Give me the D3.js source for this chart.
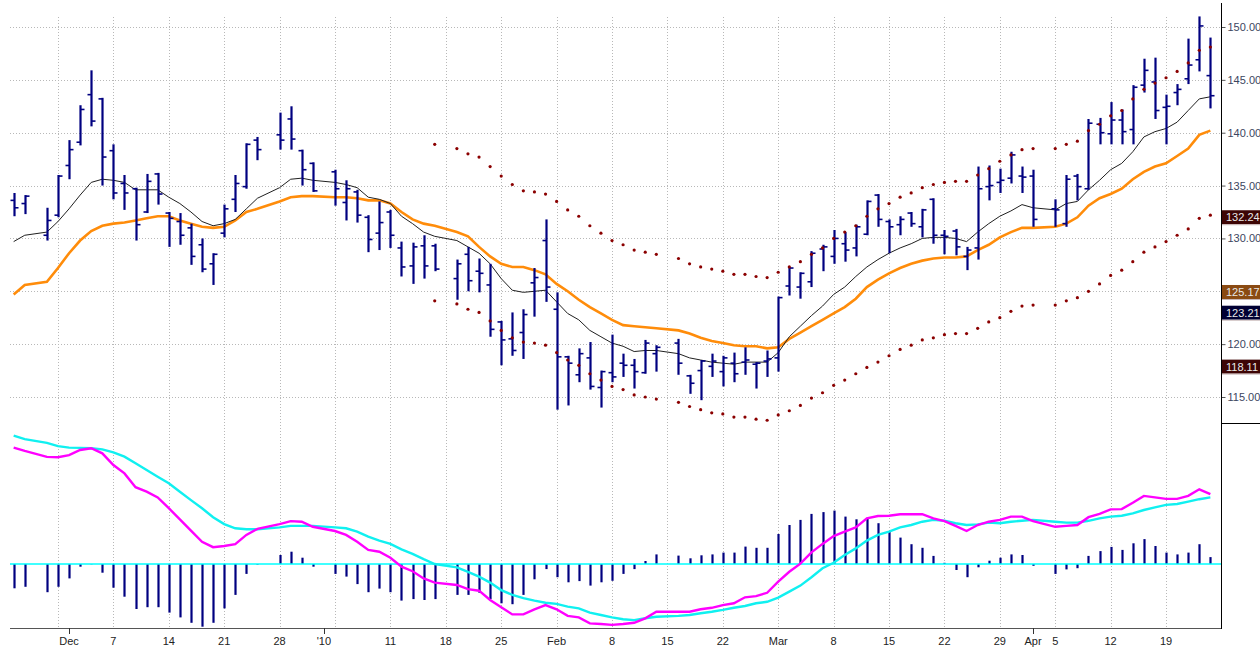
<!DOCTYPE html>
<html>
<head>
<meta charset="utf-8">
<script src="https://cdn.jsdelivr.net/npm/d3@7"></script>
<style>
  body { margin: 0; background: #fff; }
  svg { display: block; font-family: "Liberation Sans", Arial, sans-serif; }
</style>
</head>
<body>
<svg id="chart" width="1260" height="648"></svg>
<script>
// trading days (holidays are left as empty slots)
var dates = [
  "2009-11-24","2009-11-25","2009-11-27",
  "2009-11-30","2009-12-01","2009-12-02","2009-12-03","2009-12-04",
  "2009-12-07","2009-12-08","2009-12-09","2009-12-10","2009-12-11",
  "2009-12-14","2009-12-15","2009-12-16","2009-12-17","2009-12-18",
  "2009-12-21","2009-12-22","2009-12-23","2009-12-24",
  "2009-12-28","2009-12-29","2009-12-30","2009-12-31",
  "2010-01-04","2010-01-05","2010-01-06","2010-01-07","2010-01-08",
  "2010-01-11","2010-01-12","2010-01-13","2010-01-14","2010-01-15",
  "2010-01-19","2010-01-20","2010-01-21","2010-01-22",
  "2010-01-25","2010-01-26","2010-01-27","2010-01-28","2010-01-29",
  "2010-02-01","2010-02-02","2010-02-03","2010-02-04","2010-02-05",
  "2010-02-08","2010-02-09","2010-02-10","2010-02-11","2010-02-12",
  "2010-02-16","2010-02-17","2010-02-18","2010-02-19",
  "2010-02-22","2010-02-23","2010-02-24","2010-02-25","2010-02-26",
  "2010-03-01","2010-03-02","2010-03-03","2010-03-04","2010-03-05",
  "2010-03-08","2010-03-09","2010-03-10","2010-03-11","2010-03-12",
  "2010-03-15","2010-03-16","2010-03-17","2010-03-18","2010-03-19",
  "2010-03-22","2010-03-23","2010-03-24","2010-03-25","2010-03-26",
  "2010-03-29","2010-03-30","2010-03-31","2010-04-01",
  "2010-04-05","2010-04-06","2010-04-07","2010-04-08","2010-04-09",
  "2010-04-12","2010-04-13","2010-04-14","2010-04-15","2010-04-16",
  "2010-04-19","2010-04-20","2010-04-21","2010-04-22","2010-04-23"
]

var open = [133.6,133.3,130.3, 132.2,136.9,139.1,143.6,143.2, 138.3,135.2,134.7,132.5,136.1,
  132.4,131.6,131.0,129.4,127.6, 130.5,133.7,134.9,139.3, 139.8,141.3,138.3,137.1,
  136.3,133.4,134.4,132.0,130.5, 132.5,129.1,127.4,129.3,129.3, 126.2,128.5,126.9,125.6,
  122.1,120.5,121.1,125.8,129.8, 123.3,118.8,117.1,118.7,115.9, 117.3,118.2,118.0,117.3,119.1,
  120.1,117.0,117.5,117.9, 117.4,118.2,118.3,118.1,118.4, 118.7,125.5,125.4,125.9,129.0,
  128.3,129.5,129.1,130.4,134.1, 131.6,131.3,132.4,131.1,133.7, 130.3,130.7,128.3,129.1,134.9,
  135.3,135.7,135.9,135.9, 132.8,131.4,135.9,134.7,140.8, 139.9,141.2,140.3,144.5,144.8,
  142.4,143.8,145.1,146.9,145.4]
var high = [134.3,134.1,132.9, 136.0,139.3,142.6,145.9,143.3, 138.9,136.0,134.8,136.1,136.2,
  132.5,132.4,131.4,130.0,128.6, 133.2,136.0,139.0,139.6, 141.9,142.5,138.4,137.2,
  136.5,135.5,134.6,132.2,133.5, 132.7,129.7,129.6,130.3,129.5, 128.0,129.2,128.1,127.6,
  122.2,123.0,123.3,127.2,131.8, 124.9,118.9,119.6,120.2,117.5, 120.9,119.1,118.6,120.4,119.9,
  120.5,117.1,118.5,119.1, 118.9,119.2,119.7,118.3,119.4, 124.5,127.3,126.8,128.8,129.4,
  130.8,130.6,131.3,133.6,134.2, 131.8,132.1,132.5,132.8,133.8, 130.8,130.9,129.2,136.8,136.9,
  136.6,138.2,136.8,136.5, 133.7,136.0,136.1,141.3,141.4, 142.9,142.2,144.5,147.0,147.1,
  143.6,144.6,148.9,151.0,149.0]
var low = [132.1,132.3,129.8, 132.0,135.6,138.8,140.6,135.0, 133.7,132.7,129.8,132.4,133.2,
  129.2,129.4,127.5,126.8,125.6, 130.1,132.5,134.7,137.4, 138.4,138.4,135.0,134.4,
  133.1,131.7,131.5,128.7,128.9, 129.1,126.4,125.7,126.2,126.9, 124.2,125.0,124.9,120.7,
  118.0,118.9,118.6,122.6,124.0, 113.8,114.2,116.4,115.7,114.0, 116.4,116.9,115.8,117.2,117.4,
  117.1,115.3,114.7,116.9, 116.0,116.4,117.1,115.8,116.9, 117.4,124.6,124.3,125.4,126.9,
  127.6,127.8,128.3,130.3,131.1, 128.6,130.3,131.1,130.1,129.5, 128.5,128.4,127.0,128.0,133.6,
  134.3,135.2,134.3,131.1, 131.1,131.1,133.6,134.6,138.9, 138.9,138.9,138.9,143.8,141.3,
  138.9,142.6,144.6,145.8,142.3]
var close = [132.9,134.0,131.7, 135.9,138.4,142.2,141.1,137.7, 134.3,134.3,131.3,135.4,134.2,
  131.9,130.3,128.3,127.1,128.5, 132.8,135.2,138.9,138.4, 139.3,139.4,136.5,134.5,
  134.7,134.7,132.2,129.9,131.5, 130.3,127.3,129.2,127.4,127.1, 127.6,126.0,126.7,121.4,
  120.4,119.4,122.8,126.3,125.4, 118.8,118.2,119.1,116.0,117.4, 116.9,118.0,117.4,120.1,119.7,
  118.2,116.3,118.4,118.4, 118.7,117.2,118.5,118.2,118.6, 124.4,127.2,126.7,128.6,129.2,
  130.0,128.9,131.1,133.5,131.8, 131.1,131.8,131.4,132.7,130.3, 130.2,129.2,128.9,134.7,135.0,
  135.5,137.9,135.8,131.8, 132.7,135.6,134.9,140.9,140.0, 141.2,140.1,144.3,145.9,142.1,
  142.5,144.1,146.4,150.1,143.5]

// thin black average
var maFast = [129.7,130.3,130.6, 131.6,132.8,134.1,135.3,135.6, 135.5,135.3,134.6,134.6,134.6,
  133.9,133.3,132.5,131.6,131.2, 131.4,131.8,132.8,133.8, 134.8,135.6,135.7,135.5,
  135.3,135.1,134.8,133.9,133.7, 133.3,132.1,131.4,130.6,130.2, 129.8,129.2,128.6,127.6,
  126.2,125.1,124.9,125.0,125.1, 124.0,122.9,122.3,121.3,120.7, 120.1,119.8,119.3,119.4,119.4,
  119.1,118.7,118.5,118.3, 118.2,118.1,118.3,118.3,118.3, 119.2,120.7,121.7,122.7,123.6,
  124.7,125.4,126.4,127.3,128.0, 128.6,129.1,129.5,130.0,130.1, 130.1,130.0,129.7,130.6,131.4,
  132.1,132.6,133.2,132.9, 132.7,133.3,133.5,134.6,135.5, 136.5,137.1,138.2,139.6,140.1,
  140.4,141.0,142.1,143.2,143.4]
// orange average
var maSlow = [124.7,125.6,125.9, 127.2,128.6,129.8,130.7,131.2, 131.4,131.5,131.7,131.9,132.1,
  132.1,131.7,131.4,131.1,131.0, 131.1,131.7,132.5,132.8, 133.5,133.9,134.0,134.0,
  133.9,133.9,133.8,133.6,133.6, 133.3,132.5,131.8,131.4,131.2, 130.6,130.2,129.2,128.3,
  127.6,127.3,127.3,127.0,126.6, 125.7,125.0,124.2,123.5,122.9, 122.3,121.8,121.7,121.6,121.5,
  121.3,121.0,120.6,120.3, 120.1,119.9,119.8,119.8,119.6, 119.7,120.5,121.1,121.7,122.3,
  122.9,123.5,124.3,125.4,126.1, 126.7,127.2,127.6,127.9,128.1, 128.2,128.2,128.3,128.9,129.4,
  130.1,130.6,131.0,131.0, 131.1,131.4,132.0,133.1,133.8, 134.2,134.7,135.6,136.3,136.8,
  137.1,137.8,138.5,139.8,140.2]

// dotted bands, starting on 15 Jan
var bandStart = 35
var bandUpper = [138.9, 138.5,138.0,137.7,136.8, 135.9,135.1,134.5,134.4,134.2,
  133.5,132.7,132.1,131.2,130.5, 129.8,129.4,128.9,128.7,128.5, 128.1,127.6,127.3,127.1,
  126.9,126.6,126.6,126.4,126.3, 126.8,127.3,127.8,128.5,129.1, 130.0,130.6,131.2,132.1,132.8,
  133.3,133.9,134.3,134.8,135.1, 135.3,135.4,135.4,136.0,136.6, 137.3,137.9,138.4,138.5,
  138.5,138.9,139.2,140.2,140.8, 141.6,142.1,143.2,144.1,144.7, 145.2,145.8,146.6,147.8,148.1]
var bandLower = [124.1, 123.8,123.3,123.0,122.2, 121.3,120.6,120.2,120.1,119.9,
  119.2,118.5,118.0,117.2,116.6, 116.0,115.7,115.2,115.0,114.8, 114.5,114.1,113.8,113.5,
  113.4,113.1,113.1,112.9,112.8, 113.3,113.7,114.2,114.9,115.4, 116.1,116.6,117.2,117.8,118.3,
  118.9,119.5,119.9,120.4,120.6, 120.9,121.0,121.0,121.5,122.1, 122.5,123.1,123.6,123.7,
  123.7,124.1,124.4,125.0,125.7, 126.5,127.0,127.8,128.7,129.2, 129.7,130.3,130.9,131.9,132.2]

// lower panel
var macd = [3.88,3.77,3.57, 3.56,3.63,3.80,3.86,3.69, 3.30,3.02,2.56,2.41,2.22,
  1.86,1.49,1.11,0.74,0.56, 0.60,0.66,0.97,1.17, 1.33,1.43,1.41,1.24,
  1.10,0.97,0.74,0.47,0.41, 0.21,-0.09,-0.24,-0.48,-0.62, -0.70,-0.84,-0.89,-1.20,
  -1.44,-1.68,-1.68,-1.51,-1.37, -1.51,-1.73,-1.78,-1.98,-2.00, -2.03,-2.00,-1.96,-1.81,-1.59,
  -1.59,-1.59,-1.51,-1.46, -1.37,-1.31,-1.11,-1.07,-0.96, -0.59,-0.26,0.01,0.39,0.67,
  0.93,1.08,1.22,1.52,1.60, 1.61,1.66,1.66,1.66,1.52, 1.43,1.27,1.10,1.30,1.41,
  1.47,1.58,1.58,1.43, 1.24,1.27,1.30,1.56,1.67, 1.82,1.83,2.04,2.27,2.22,
  2.17,2.17,2.27,2.49,2.33]
var signal = [4.28,4.16,4.04, 3.93,3.88,3.87,3.86,3.82, 3.72,3.58,3.36,3.13,2.91,
  2.69,2.41,2.13,1.86,1.56, 1.33,1.19,1.16,1.16, 1.22,1.27,1.27,1.27,
  1.22,1.19,1.08,0.91,0.78, 0.67,0.49,0.34,0.16,0.00, -0.11,-0.26,-0.42,-0.62,
  -0.87,-1.03,-1.14,-1.22,-1.29, -1.33,-1.42,-1.48,-1.62,-1.70, -1.78,-1.84,-1.87,-1.81,-1.76,
  -1.73,-1.70,-1.64,-1.59, -1.53,-1.46,-1.40,-1.31,-1.26, -1.12,-0.92,-0.72,-0.44,-0.14,
  0.04,0.30,0.52,0.78,0.97, 1.08,1.22,1.30,1.41,1.47, 1.44,1.36,1.30,1.32,1.38,
  1.36,1.41,1.44,1.47, 1.41,1.38,1.38,1.44,1.52, 1.58,1.61,1.69,1.80,1.89,
  1.97,2.00,2.08,2.16,2.22]
var hist = [-0.81,-0.76,-0.94, -0.76,-0.48,-0.09,-0.01,-0.29, -0.79,-1.09,-1.50,-1.44,-1.44,
  -1.62,-1.78,-1.96,-2.09,-1.96, -1.48,-1.03,-0.33,-0.02, 0.30,0.41,0.21,-0.09,
  -0.33,-0.42,-0.67,-0.94,-0.82, -0.94,-1.22,-1.17,-1.20,-1.17, -1.03,-1.03,-0.96,-1.17,
  -1.31,-1.34,-1.03,-0.51,-0.17, -0.44,-0.61,-0.57,-0.72,-0.61, -0.56,-0.33,-0.17,0.10,0.32,
  0.28,0.19,0.29,0.32, 0.38,0.38,0.58,0.54,0.54, 1.00,1.30,1.47,1.67,1.73,
  1.78,1.58,1.49,1.54,1.36, 1.10,0.88,0.66,0.54,0.27, 0.04,-0.20,-0.44,-0.11,0.11,
  0.21,0.32,0.30,-0.06, -0.33,-0.18,-0.14,0.27,0.43, 0.57,0.47,0.69,0.83,0.60,
  0.38,0.32,0.38,0.66,0.23]

var priceTicks = [115, 120, 125, 130, 135, 140, 145, 150]
var weekLines = ["2009-11-30","2009-12-07","2009-12-14","2009-12-21","2009-12-28","2010-01-04",
  "2010-01-11","2010-01-18","2010-01-25","2010-02-01","2010-02-08","2010-02-15","2010-02-22",
  "2010-03-01","2010-03-08","2010-03-15","2010-03-22","2010-03-29","2010-04-05","2010-04-12","2010-04-19"]
var dateLabels = ["2009-12-01","2009-12-07","2009-12-14","2009-12-21","2009-12-28","2010-01-01",
  "2010-01-11","2010-01-18","2010-01-25","2010-02-01","2010-02-08","2010-02-15","2010-02-22",
  "2010-03-01","2010-03-08","2010-03-15","2010-03-22","2010-03-29","2010-04-01","2010-04-05",
  "2010-04-12","2010-04-19"]
var dateLabelText = ["Dec","7","14","21","28","'10","11","18","25","Feb","8","15","22",
  "Mar","8","15","22","29","Apr","5","12","19"]
var monthTicks = ["2009-12-01","2010-01-01","2010-04-01"]

var tagValues = [132.24, 125.17, 123.21, 118.11]
var tagColors = ["#3d0505", "#8a4a12", "#000033", "#3d0505"]

// weekday slot counted from Monday 23 Nov 2009
var base = Date.UTC(2009, 10, 23)
function slot(s) {
  var p = s.split("-")
  var days = Math.round((Date.UTC(+p[0], +p[1] - 1, +p[2]) - base) / 86400000)
  return Math.floor(days / 7) * 5 + (days % 7)
}

var bars = dates.map(function(d, i) {
  return { s: slot(d), o: open[i], h: high[i], l: low[i], c: close[i],
    fast: maFast[i], slow: maSlow[i], macd: macd[i], sig: signal[i], hist: hist[i],
    up: i >= bandStart ? bandUpper[i - bandStart] : null,
    dn: i >= bandStart ? bandLower[i - bandStart] : null }
})

var left = 10, right = 1221
var x = d3.scaleLinear().domain([0.67, 109.96]).range([left, right])
var y = d3.scaleLinear().domain([115, 150]).range([397, 27])
var ym = d3.scaleLinear().domain([-2.15, 4.65]).range([628.5, 424.5])

var svg = d3.select("#chart")

// grid
var grid = svg.append("g").attr("stroke", "#b8b8b8").attr("stroke-dasharray", "1,2")
grid.selectAll("line.h").data(priceTicks).enter().append("line")
  .attr("x1", left).attr("x2", right)
  .attr("y1", function(d) { return Math.round(y(d)) + 0.5 })
  .attr("y2", function(d) { return Math.round(y(d)) + 0.5 })
grid.selectAll("line.v").data(weekLines).enter().append("line")
  .attr("x1", function(d) { return Math.round(x(slot(d))) + 0.5 })
  .attr("x2", function(d) { return Math.round(x(slot(d))) + 0.5 })
  .attr("y1", 17).attr("y2", 628)

// price panel
var price = svg.append("g")

var fastLine = d3.line().x(function(d) { return x(d.s) }).y(function(d) { return y(d.fast) })
var slowLine = d3.line().x(function(d) { return x(d.s) }).y(function(d) { return y(d.slow) })

price.append("path").datum(bars).attr("d", slowLine)
  .attr("fill", "none").attr("stroke", "#ff8c0a").attr("stroke-width", 2.6)
price.append("path").datum(bars).attr("d", fastLine)
  .attr("fill", "none").attr("stroke", "#202020").attr("stroke-width", 1)

var ohlc = price.append("g").attr("stroke", "#000080")
bars.forEach(function(b) {
  var cx = Math.round(x(b.s)) + 0.5
  ohlc.append("line").attr("x1", cx).attr("x2", cx)
    .attr("y1", y(b.h)).attr("y2", y(b.l)).attr("stroke-width", 2.2)
  ohlc.append("line").attr("x1", cx - 4).attr("x2", cx)
    .attr("y1", y(b.o)).attr("y2", y(b.o)).attr("stroke-width", 1.6)
  ohlc.append("line").attr("x1", cx).attr("x2", cx + 4)
    .attr("y1", y(b.c)).attr("y2", y(b.c)).attr("stroke-width", 1.6)
})

var banded = bars.filter(function(b) { return b.up !== null })
price.append("g").attr("fill", "#8b0000").selectAll("circle.up").data(banded).enter()
  .append("circle").attr("cx", function(d) { return x(d.s) }).attr("cy", function(d) { return y(d.up) }).attr("r", 1.6)
price.append("g").attr("fill", "#8b0000").selectAll("circle.dn").data(banded).enter()
  .append("circle").attr("cx", function(d) { return x(d.s) }).attr("cy", function(d) { return y(d.dn) }).attr("r", 1.6)

// lower panel
var lower = svg.append("g")
lower.append("g").attr("stroke", "#000080").attr("stroke-width", 2.2)
  .selectAll("line").data(bars).enter().append("line")
  .attr("x1", function(d) { return Math.round(x(d.s)) + 0.5 })
  .attr("x2", function(d) { return Math.round(x(d.s)) + 0.5 })
  .attr("y1", ym(0)).attr("y2", function(d) { return ym(d.hist) })

lower.append("line").attr("x1", left).attr("x2", right)
  .attr("y1", ym(0)).attr("y2", ym(0)).attr("stroke", "#00ffff").attr("stroke-width", 1.5)

var sigLine = d3.line().x(function(d) { return x(d.s) }).y(function(d) { return ym(d.sig) })
var macdLine = d3.line().x(function(d) { return x(d.s) }).y(function(d) { return ym(d.macd) })
lower.append("path").datum(bars).attr("d", sigLine)
  .attr("fill", "none").attr("stroke", "#10f0f0").attr("stroke-width", 2.4)
lower.append("path").datum(bars).attr("d", macdLine)
  .attr("fill", "none").attr("stroke", "#ff00ff").attr("stroke-width", 2.4)

// right price axis
var ax = svg.append("g").attr("transform", "translate(" + (right + 0.5) + ",0)")
  .call(d3.axisRight(y).tickValues(priceTicks).tickFormat(d3.format(".2f")).tickSize(4).tickPadding(2))
ax.select(".domain").remove()
ax.selectAll("text").attr("font-size", 11).attr("fill", "#3c4660")
ax.selectAll("line").attr("stroke", "#555")

svg.append("line").attr("x1", right + 0.5).attr("x2", right + 0.5).attr("y1", 3).attr("y2", 629)
  .attr("stroke", "#000")
svg.append("line").attr("x1", right).attr("x2", 1260).attr("y1", 423.5).attr("y2", 423.5)
  .attr("stroke", "#000")

// value tags
var tags = svg.append("g")
tagValues.forEach(function(v, i) {
  var cy = y(v) + 2.5
  tags.append("rect").attr("x", right + 1).attr("y", cy - 7).attr("width", 1260 - right - 1).attr("height", 14)
    .attr("fill", tagColors[i])
  tags.append("line").attr("x1", right + 1).attr("x2", 1260).attr("y1", cy + 7.5).attr("y2", cy + 7.5)
    .attr("stroke", "#c8b8b8")
  tags.append("text").attr("x", right + 5).attr("y", cy + 4).attr("font-size", 11)
    .attr("fill", "#e8e8e8").text(d3.format(".2f")(v))
})

// bottom date axis
svg.append("line").attr("x1", left).attr("x2", right).attr("y1", 628.5).attr("y2", 628.5)
  .attr("stroke", "#555")
svg.append("g").attr("stroke", "#333").selectAll("line").data(monthTicks).enter().append("line")
  .attr("x1", function(d) { return Math.round(x(slot(d))) + 0.5 })
  .attr("x2", function(d) { return Math.round(x(slot(d))) + 0.5 })
  .attr("y1", 628).attr("y2", 634)
svg.append("g").selectAll("text").data(dateLabels).enter().append("text")
  .attr("x", function(d) { return x(slot(d)) })
  .attr("y", 645).attr("text-anchor", "middle").attr("font-size", 11).attr("fill", "#222")
  .text(function(d, i) { return dateLabelText[i] })
</script>
</body>
</html>
